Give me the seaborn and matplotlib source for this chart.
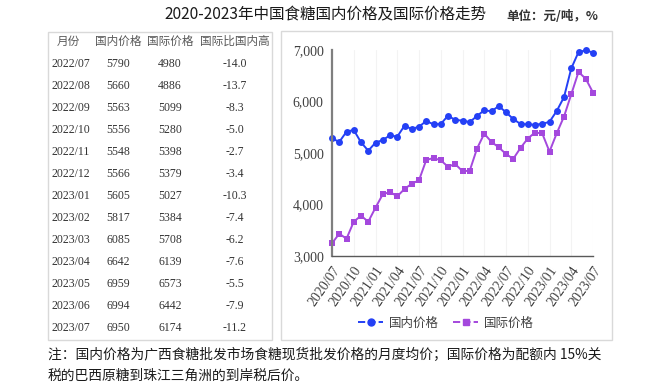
import pandas as pd
import matplotlib
matplotlib.use('Agg')
import matplotlib.pyplot as plt
import seaborn as sns
from matplotlib.ticker import FuncFormatter
from matplotlib.lines import Line2D
from matplotlib.patches import Rectangle

# monthly prices 2020/07 - 2023/07 (yuan/ton)
months = list(pd.period_range('2020-07', '2023-07', freq='M').strftime('%Y/%m'))
domestic = [5285, 5214, 5414, 5447, 5207, 5045, 5200, 5252, 5343, 5317, 5530, 5466,
            5511, 5621, 5557, 5563, 5724, 5641, 5630, 5600, 5720, 5829, 5809, 5912,
            5790, 5660, 5563, 5556, 5548, 5566, 5605, 5817, 6085, 6642, 6959, 6994, 6950]
international = [3247, 3433, 3336, 3666, 3783, 3666, 3938, 4197, 4243, 4159, 4301, 4404,
                 4470, 4864, 4903, 4858, 4734, 4786, 4645, 4657, 5085, 5375, 5214, 5110,
                 4980, 4886, 5099, 5280, 5398, 5379, 5027, 5384, 5708, 6139, 6573, 6442, 6174]

# table on the left
table_header = ['月份', '国内价格', '国际价格', '国际比国内高']
table_months = ['2022/07', '2022/08', '2022/09', '2022/10', '2022/11', '2022/12', '2023/01',
                '2023/02', '2023/03', '2023/04', '2023/05', '2023/06', '2023/07']
table_dom = [5790, 5660, 5563, 5556, 5548, 5566, 5605, 5817, 6085, 6642, 6959, 6994, 6950]
table_intl = [4980, 4886, 5099, 5280, 5398, 5379, 5027, 5384, 5708, 6139, 6573, 6442, 6174]
table_diff = ['-14.0', '-13.7', '-8.3', '-5.0', '-2.7', '-3.4', '-10.3', '-7.4', '-6.2',
              '-7.6', '-5.5', '-7.9', '-11.2']

sns.set_style('white')
plt.rcParams['font.family'] = ['Noto Sans CJK SC', 'DejaVu Sans']

W, H = 654, 384
fig = plt.figure(figsize=(W / 100, H / 100), dpi=100)


def px(x, y):
    return x / W, 1 - y / H


blue = '#2440F5'
purple = '#A448DD'

df = pd.DataFrame({
    'idx': list(range(len(months))) * 2,
    'price': domestic + international,
    'kind': ['国内价格'] * len(months) + ['国际价格'] * len(months),
})

ax = fig.add_axes([332 / W, 1 - 256 / H, (593 - 332) / W, (256 - 50) / H])
sns.lineplot(data=df, x='idx', y='price', hue='kind', style='kind',
             markers={'国内价格': 'o', '国际价格': 's'}, dashes=False,
             palette={'国内价格': blue, '国际价格': purple},
             markersize=5, markeredgewidth=0, linewidth=1.4, ax=ax, legend=False)
for ln in ax.lines:
    ln.set_clip_on(False)
ax.set_xlim(0, 36)
ax.set_ylim(3000, 7000)
ax.set_yticks([3000, 4000, 5000, 6000, 7000])
ax.yaxis.set_major_formatter(FuncFormatter(lambda v, p: f'{int(v):,}'))
ax.set_xticks(range(0, 37, 3))
ax.set_xticklabels(months[::3], rotation=55, ha='right', rotation_mode='anchor')
for lab in ax.get_xticklabels() + ax.get_yticklabels():
    lab.set_fontfamily('Liberation Serif')
    lab.set_fontsize(10)
    lab.set_color('#404040')
ax.tick_params(axis='x', length=4, width=1, color='#595959', pad=2, direction='out')
ax.tick_params(axis='y', length=0, pad=6)
ax.set_xlabel('')
ax.set_ylabel('')
for s in ['top', 'right']:
    ax.spines[s].set_visible(False)
ax.spines['left'].set_color('#7f7f7f')
ax.spines['left'].set_linewidth(1.6)
ax.spines['bottom'].set_color('#595959')
ax.spines['bottom'].set_linewidth(1)
ax.grid(axis='x', color='#f3f3f3', linewidth=0.8)
ax.set_axisbelow(True)
ax.patch.set_alpha(0)

handles = [Line2D([], [], color=blue, marker='o', markersize=5, linestyle='--', lw=1.4),
           Line2D([], [], color=purple, marker='s', markersize=5, linestyle='--', lw=1.4)]
fig.legend(handles, ['国内价格', '国际价格'], loc='center', bbox_to_anchor=px(446, 323),
           ncol=2, frameon=False, fontsize=9, handlelength=2, handletextpad=0.4,
           columnspacing=1.2, labelcolor='#404040')

# boxes
fig.patches.append(Rectangle(px(281, 340), (612 - 281) / W, (340 - 31) / H,
                             transform=fig.transFigure, fill=False, ec='#d9d9d9', lw=1))
fig.patches.append(Rectangle(px(48, 340), (272 - 48) / W, (340 - 32) / H,
                             transform=fig.transFigure, fill=False, ec='#d9d9d9', lw=1))

# titles
fig.text(*px(325, 15), '2020-2023年中国食糖国内价格及国际价格走势', ha='center', va='center',
         fontsize=11.2, color='#1a1a1a')
fig.text(*px(552, 17), '单位：元/吨，%', ha='center', va='center', fontsize=9,
         fontweight='bold', color='#333333')

# table text
col_x = [68, 118, 170, 235]
for cx, h in zip(col_x, table_header):
    fig.text(*px(cx, 41), h, ha='center', va='center', fontsize=8.4, color='#595959')
for i in range(len(table_months)):
    y = 64 + 22 * i
    fig.text(*px(51, y), table_months[i], ha='left', va='center', fontsize=8.5,
             family='Liberation Serif', color='#333333')
    fig.text(*px(118, y), str(table_dom[i]), ha='center', va='center', fontsize=8.5,
             family='Liberation Serif', color='#333333')
    fig.text(*px(170, y), str(table_intl[i]), ha='center', va='center', fontsize=8.5,
             family='Liberation Serif', color='#333333')
    fig.text(*px(235, y), table_diff[i], ha='center', va='center', fontsize=8.5,
             family='Liberation Serif', color='#333333')

# footnote
fig.text(*px(48, 355), '注：国内价格为广西食糖批发市场食糖现货批发价格的月度均价；国际价格为配额内 15%关',
         ha='left', va='center', fontsize=9.9, color='#1a1a1a')
fig.text(*px(48, 376), '税的巴西原糖到珠江三角洲的到岸税后价。',
         ha='left', va='center', fontsize=9.9, color='#1a1a1a')

fig.savefig('out.png', dpi=100)
